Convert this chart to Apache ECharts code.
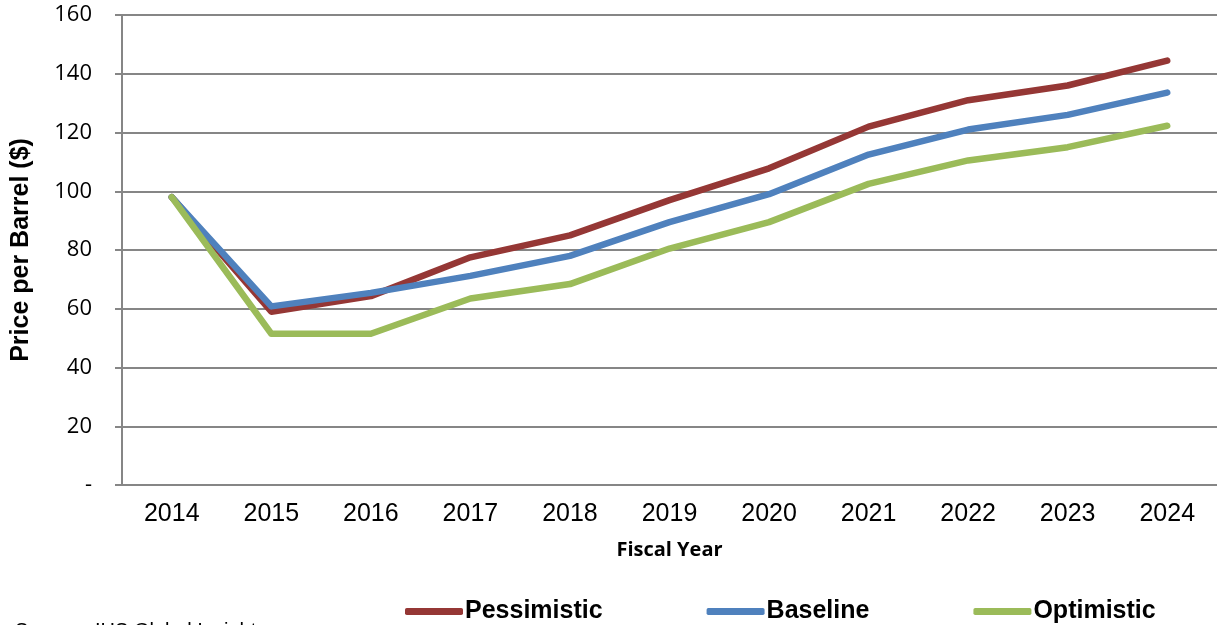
<!DOCTYPE html>
<html>
<head>
<meta charset="utf-8">
<script src="https://cdn.jsdelivr.net/npm/echarts@6/dist/echarts.min.js"></script>
<style>
html,body{margin:0;padding:0;background:#fff;}
#chart{width:1217px;height:625px;}
</style>
</head>
<body>
<div id="chart"></div>
<script>
const years = ['2014','2015','2016','2017','2018','2019','2020','2021','2022','2023','2024'];
const pessimistic = [98, 59, 64.3, 77.5, 85, 97, 107.8, 122, 131, 136, 144.5];
const baseline    = [98, 60.8, 65.4, 71.2, 78, 89.5, 99, 112.5, 121, 126, 133.6];
const optimistic  = [98, 51.5, 51.5, 63.5, 68.4, 80.5, 89.5, 102.5, 110.5, 115, 122.3];
const yTicks = {min: 0, max: 160, interval: 20};

const chart = echarts.init(document.getElementById('chart'));
const lineStyle = (c) => ({color: c, width: 6.5, cap: 'round', join: 'round'});
chart.setOption({
  animation: false,
  backgroundColor: '#fff',
  grid: {left: 122, right: 0, top: 15, bottom: 140, containLabel: false},
  legend: {
    left: 405, top: 599, padding: 0,
    itemWidth: 58, itemHeight: 7, itemGap: 104,
    icon: 'roundRect',
    textStyle: {fontFamily: 'Liberation Sans', fontWeight: 'bold', fontSize: 25, color: '#000', padding: [0,0,0,-3]},
    data: ['Pessimistic','Baseline','Optimistic']
  },
  xAxis: {
    type: 'category', data: years, boundaryGap: true,
    name: 'Fiscal Year', nameLocation: 'middle', nameGap: 55,
    nameTextStyle: {fontFamily: 'Open Sans', fontWeight: 'bold', fontSize: 20, color: '#000'},
    axisLine: {lineStyle: {color: '#868686', width: 2}},
    axisTick: {show: false},
    axisLabel: {fontFamily: 'Liberation Sans', fontSize: 25, color: '#000', margin: 17}
  },
  yAxis: {
    type: 'value', min: yTicks.min, max: yTicks.max, interval: yTicks.interval,
    name: 'Price per Barrel ($)', nameLocation: 'middle', nameGap: 88,
    nameTextStyle: {fontFamily: 'Liberation Sans', fontWeight: 'bold', fontSize: 25, color: '#000'},
    axisLine: {show: true, lineStyle: {color: '#868686', width: 2}},
    axisTick: {show: true, length: 7, lineStyle: {color: '#868686', width: 2}},
    splitLine: {lineStyle: {color: '#868686', width: 2}},
    axisLabel: {fontFamily: 'Open Sans', fontSize: 22, color: '#000', margin: 30,
      formatter: v => v === 0 ? '-' : String(v)}
  },
  series: [
    {name: 'Pessimistic', type: 'line', data: pessimistic, showSymbol: false, symbol: 'none', color: '#953735', lineStyle: lineStyle('#953735')},
    {name: 'Baseline', type: 'line', data: baseline, showSymbol: false, symbol: 'none', color: '#4F81BD', lineStyle: lineStyle('#4F81BD')},
    {name: 'Optimistic', type: 'line', data: optimistic, showSymbol: false, symbol: 'none', color: '#9BBB59', lineStyle: lineStyle('#9BBB59')}
  ],
  graphic: [{
    type: 'text', left: 15, top: 621,
    style: {text: 'Source:  IHS Global Insight', fontFamily: 'Liberation Sans', fontSize: 20, fill: '#000'}
  }]
});
</script>
</body>
</html>
